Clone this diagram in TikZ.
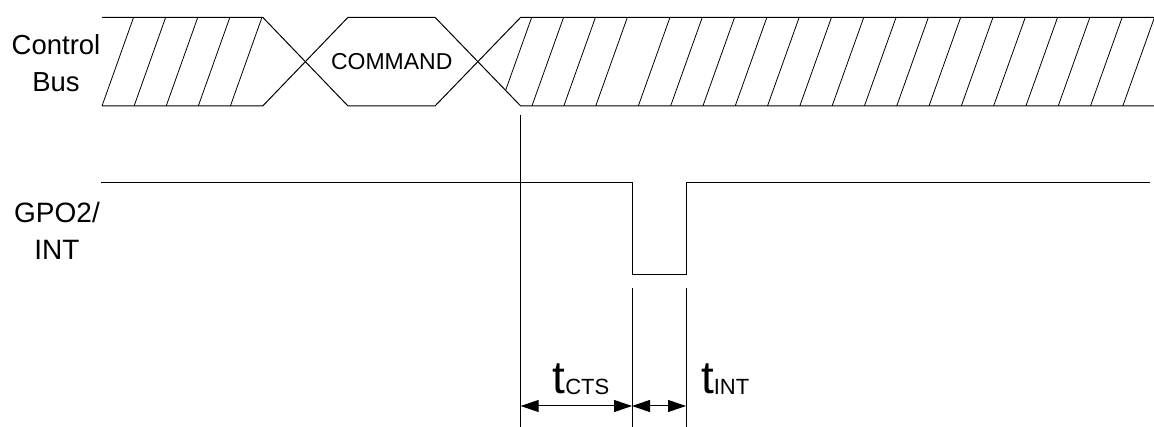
\documentclass[tikz,border=0pt]{standalone}
\usepackage{fontspec}
\setmainfont{Liberation Sans}
\usetikzlibrary{arrows.meta,positioning,calc}

\begin{document}
\begin{tikzpicture}[x=1pt, y=-1pt, line width=1pt,
    hatch/.style={line width=0.8pt},
    siglabel/.style={align=center, inner sep=0pt, font=\fontsize{27.5}{36.7}\selectfont},
    dimarrow/.style={line width=1pt, {Triangle[length=18pt,width=12pt]}-{Triangle[length=18pt,width=12pt]}}]
    \useasboundingbox (0,0) rectangle (1154,427);

    % Control bus
    \node[siglabel] (buslabel) at (56,63.5) {Control\\Bus};
    \draw (102,17.3) -- (262.7,17.3) -- (348,106) -- (435,106) -- (520.7,17.3) -- (1154,17.3);
    \draw (102,106) -- (262.7,106) -- (348,17.3) -- (435,17.3) -- (520.7,106) -- (1154,106);
    \foreach \k in {0,...,4}
        \draw[hatch] ({102+32.1*\k},106) -- ({133.6+32.1*\k},17.3);
    \begin{scope}
        \clip (477.85,61.65) -- (520.7,17.3) -- (1154,17.3) -- (1154,106) -- (520.7,106) -- cycle;
        \foreach \x in {500,531.9,563.8,595.7}
            \draw[hatch] (\x,106) -- ({\x+31.7},17.3);
        \foreach \k in {0,...,15}
            \draw[hatch] ({638.3+32.3*\k},106) -- ({670+32.3*\k},17.3);
    \end{scope}
    \node[font=\fontsize{23}{23}\selectfont] (cmd) at (391.7,61.7) {COMMAND};

    % GPO2/INT
    \node[siglabel, font=\fontsize{28}{36.7}\selectfont] (gpolabel) at (57,231) {GPO2/\\INT};
    \draw (101,183) -- (632,183) -- (632,275) -- (686,275) -- (686,183) -- (1150,183);

    % timing marks
    \coordinate (cmdend) at (520.7,406);
    \coordinate (ctsend) at (632,406);
    \coordinate (intend) at (686,406);
    \draw (520.7,115) -- (520.7,427);
    \draw (632,288) -- (632,427);
    \draw (686,288) -- (686,427);
    \draw[dimarrow] (cmdend) -- (ctsend);
    \draw[dimarrow] (ctsend) -- (intend);

    \node[anchor=base west, inner sep=0pt] (tcts) at (552,393.7)
        {\fontsize{46}{46}\selectfont t\raisebox{-1pt}{\fontsize{22}{22}\selectfont CTS}};
    \node[anchor=base west, inner sep=0pt] (tint) at (700.5,393.7)
        {\fontsize{46}{46}\selectfont t\raisebox{-1pt}{\fontsize{22}{22}\selectfont INT}};
\end{tikzpicture}
\end{document}
